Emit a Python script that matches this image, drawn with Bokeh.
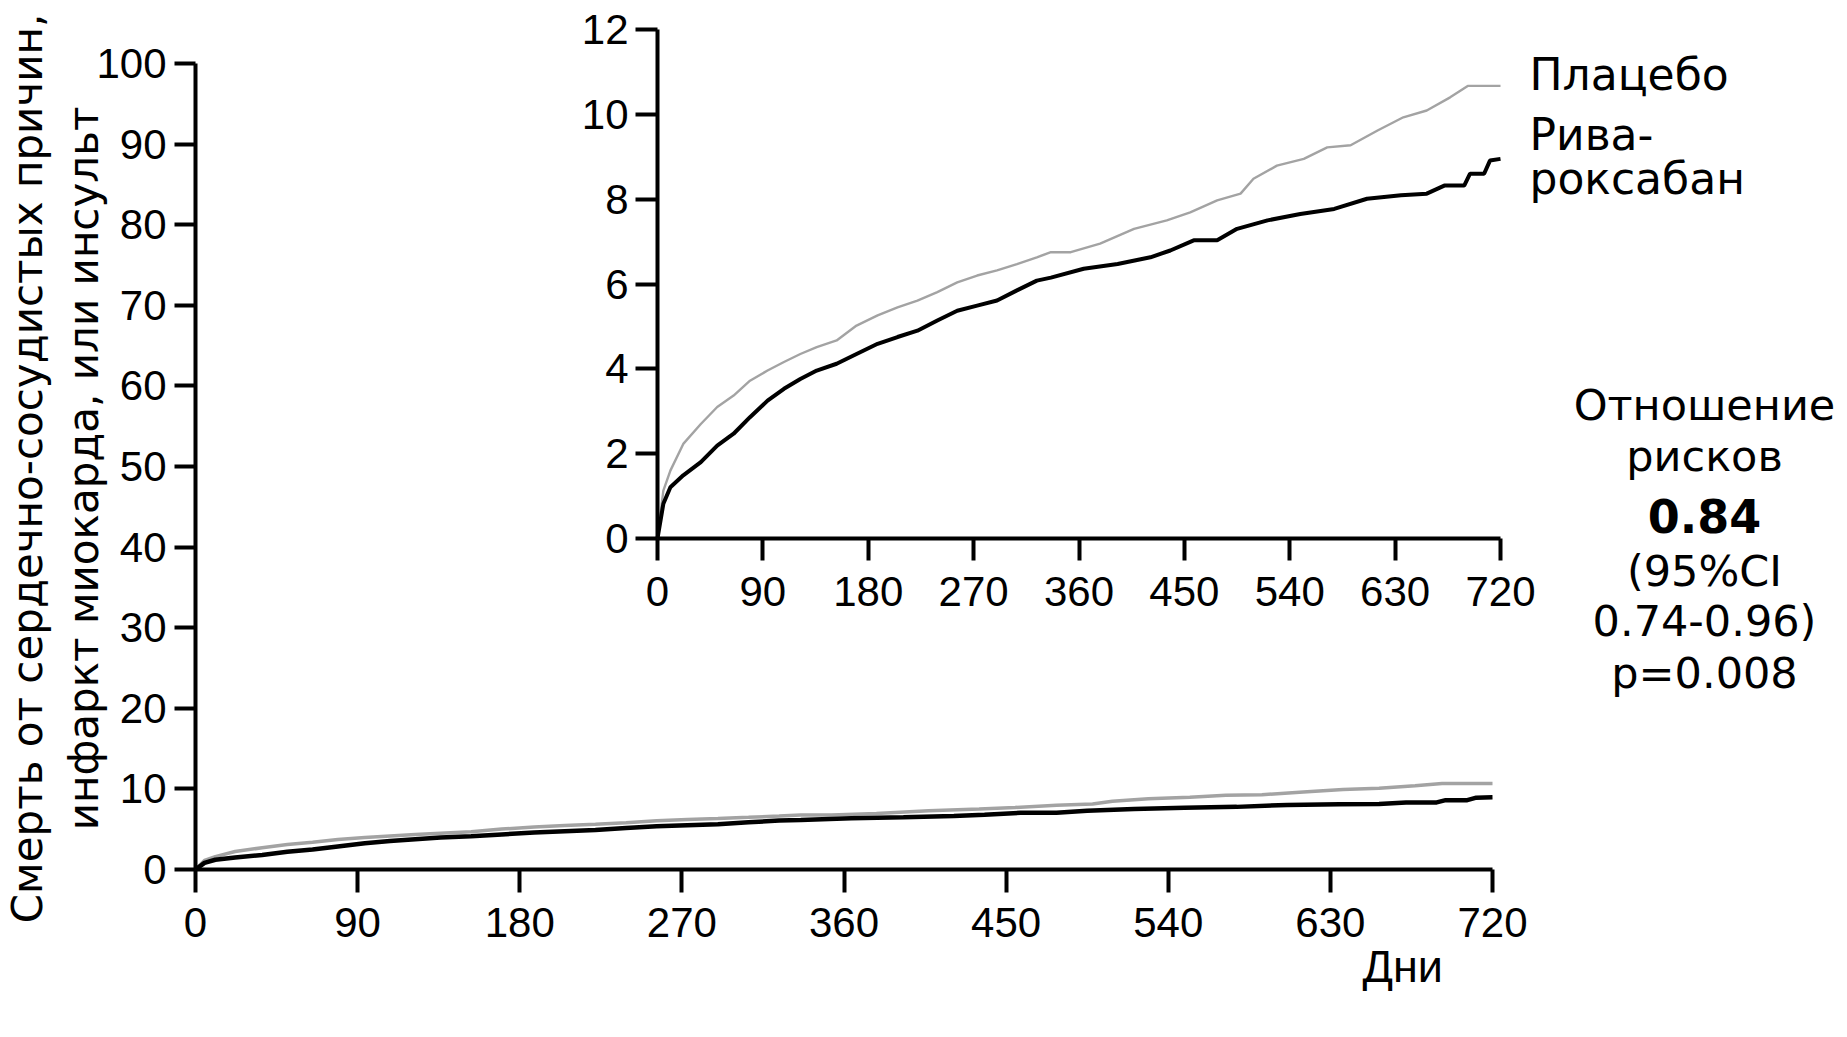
from math import pi

from bokeh.embed import file_html
from bokeh.models import FixedTicker, Label, LinearAxis, Range1d
from bokeh.plotting import figure
from bokeh.resources import INLINE

# Cumulative event rate (%) by study day
placebo_days = [0, 5, 11, 22, 37, 51, 65, 79, 94, 108, 122, 136, 153, 170, 188, 205,
                222, 239, 256, 273, 290, 307, 324, 336, 353, 378, 407, 435, 455, 478,
                498, 509, 529, 552, 572, 592, 615, 637, 657, 677, 692, 720]
placebo_pct = [0, 1.13, 1.6, 2.23, 2.7, 3.1, 3.37, 3.72, 3.96, 4.16, 4.35, 4.51, 4.67,
               5.02, 5.26, 5.45, 5.61, 5.81, 6.04, 6.2, 6.32, 6.47, 6.63, 6.75, 6.75,
               6.95, 7.3, 7.5, 7.69, 7.97, 8.13, 8.48, 8.79, 8.95, 9.22, 9.27, 9.62,
               9.93, 10.09, 10.4, 10.67, 10.67]

riva_days = [0, 5, 11, 22, 37, 51, 65, 79, 94, 108, 122, 136, 153, 170, 188, 205, 222,
             239, 256, 273, 290, 307, 324, 336, 364, 393, 421, 438, 458, 478, 495, 521,
             549, 578, 606, 635, 657, 672, 689, 694, 706, 711, 720]
riva_pct = [0, 0.82, 1.21, 1.49, 1.8, 2.19, 2.47, 2.86, 3.25, 3.53, 3.76, 3.96, 4.12,
            4.35, 4.59, 4.75, 4.9, 5.14, 5.37, 5.49, 5.61, 5.85, 6.08, 6.15, 6.36, 6.47,
            6.63, 6.79, 7.03, 7.03, 7.3, 7.5, 7.65, 7.77, 8.01, 8.09, 8.13, 8.32, 8.32,
            8.6, 8.6, 8.91, 8.95]

series_labels = ["Плацебо", "Рива-", "роксабан"]
day_ticks = [0, 90, 180, 270, 360, 450, 540, 630, 720]
main_pct_ticks = [0, 10, 20, 30, 40, 50, 60, 70, 80, 90, 100]
inset_pct_ticks = [0, 2, 4, 6, 8, 10, 12]
y_title = ["Смерть от сердечно-сосудистых причин,", "инфаркт миокарда, или инсульт"]
x_title = "Дни"
hazard_ratio = 0.84
ci_low, ci_high = 0.74, 0.96
p_value = 0.008

# Canvas and panel placement (pixels from top-left)
W, H = 1847, 1037
MAIN = dict(px0=195, px1=1492, py0=869, py1=63, d1=720, v1=100)
INSET = dict(px0=657, px1=1500, py0=538, py1=29, d1=720, v1=12)

GRAY = "#a3a3a3"
NUM_FONT = "Liberation Sans"
TXT_FONT = "DejaVu Sans"
# labels sit a bit low on the alphabetic baseline; lift them by this share of the size
BASELINE_LIFT = 0.42


def ranges_for(box):
    """Data ranges spanning the whole canvas so that 0..d1 / 0..v1 land on the box."""
    kx = box["d1"] / (box["px1"] - box["px0"])
    ky = box["v1"] / (box["py0"] - box["py1"])
    xr = Range1d((0 - box["px0"]) * kx, (W - box["px0"]) * kx)
    yr = Range1d((box["py0"] - H) * ky, (box["py0"] - 0) * ky)
    return xr, yr


main_x, main_y = ranges_for(MAIN)
ins_x, ins_y = ranges_for(INSET)

p = figure(width=W, height=H, x_range=main_x, y_range=main_y,
           x_axis_location=None, y_axis_location=None,
           output_backend="svg", toolbar_location=None,
           min_border=0, min_border_left=0, min_border_right=0,
           min_border_top=0, min_border_bottom=0)
p.outline_line_color = None
p.background_fill_color = "white"
p.border_fill_color = "white"
for g in p.grid:
    g.visible = False
p.extra_x_ranges = {"ix": ins_x}
p.extra_y_ranges = {"iy": ins_y}


def style_axis(ax, tick_len, standoff, width=4):
    ax.axis_line_width = width
    ax.axis_line_color = "black"
    ax.major_tick_line_width = width
    ax.major_tick_line_color = "black"
    ax.major_tick_out = tick_len
    ax.major_tick_in = 0
    ax.minor_tick_out = 0
    ax.minor_tick_in = 0
    ax.major_label_text_font = NUM_FONT
    ax.major_label_text_font_size = "42px"
    ax.major_label_text_color = "black"
    ax.major_label_standoff = standoff


# main axes
mx = LinearAxis(fixed_location=0, bounds=(0, 720), ticker=FixedTicker(ticks=day_ticks))
style_axis(mx, 23, 15)
p.add_layout(mx, "below")
my = LinearAxis(fixed_location=0, bounds=(0, 100), ticker=FixedTicker(ticks=main_pct_ticks))
style_axis(my, 21, 8)
p.add_layout(my, "left")

# inset axes
ix = LinearAxis(x_range_name="ix", y_range_name="iy", fixed_location=0, bounds=(0, 720),
                ticker=FixedTicker(ticks=day_ticks))
style_axis(ix, 22, 16)
p.add_layout(ix, "below")
iy = LinearAxis(x_range_name="ix", y_range_name="iy", fixed_location=0, bounds=(0, 12),
                ticker=FixedTicker(ticks=inset_pct_ticks))
style_axis(iy, 22, 7)
p.add_layout(iy, "left")

# full-scale curves
p.line(placebo_days, placebo_pct, line_color=GRAY, line_width=3.5)
p.line(riva_days, riva_pct, line_color="black", line_width=4.5)

# zoomed curves
p.line(placebo_days, placebo_pct, line_color=GRAY, line_width=2.4,
       x_range_name="ix", y_range_name="iy")
p.line(riva_days, riva_pct, line_color="black", line_width=4,
       x_range_name="ix", y_range_name="iy")


def add_text(text, x, baseline_y, size, font=TXT_FONT, align="left", style="normal",
             rotated=False):
    lift = BASELINE_LIFT * size
    if rotated:
        sx, sy, angle = x - lift, H - baseline_y, pi / 2
    else:
        sx, sy, angle = x, H - (baseline_y - lift), 0.0
    p.add_layout(Label(x=sx, y=sy, x_units="screen", y_units="screen",
                       text=text, text_font=font, text_font_size=f"{size}px",
                       text_font_style=style, text_align=align,
                       text_baseline="alphabetic", angle=angle, text_color="black"))


# vertical two-line axis title
add_text(y_title[0], 45, 468, 42, align="center", rotated=True)
add_text(y_title[1], 101, 468, 42, align="center", rotated=True)

# horizontal axis title
add_text(x_title, 1362, 985, 45, font=NUM_FONT)

# series labels
add_text(series_labels[0], 1529, 92, 44)
add_text(series_labels[1], 1529, 152, 44)
add_text(series_labels[2], 1529, 196, 44)

# hazard ratio block
cx = 1704
add_text("Отношение", cx, 423, 43, align="center")
add_text("рисков", cx, 474, 43, align="center")
add_text(f"{hazard_ratio:.2f}", cx, 535, 46, align="center", style="bold")
add_text("(95%CI", cx, 589, 43, align="center")
add_text(f"{ci_low:.2f}-{ci_high:.2f})", cx, 639, 43, align="center")
add_text(f"p={p_value:.3f}", cx, 691, 43, align="center")

open("out.html", "w").write(file_html(p, INLINE))
